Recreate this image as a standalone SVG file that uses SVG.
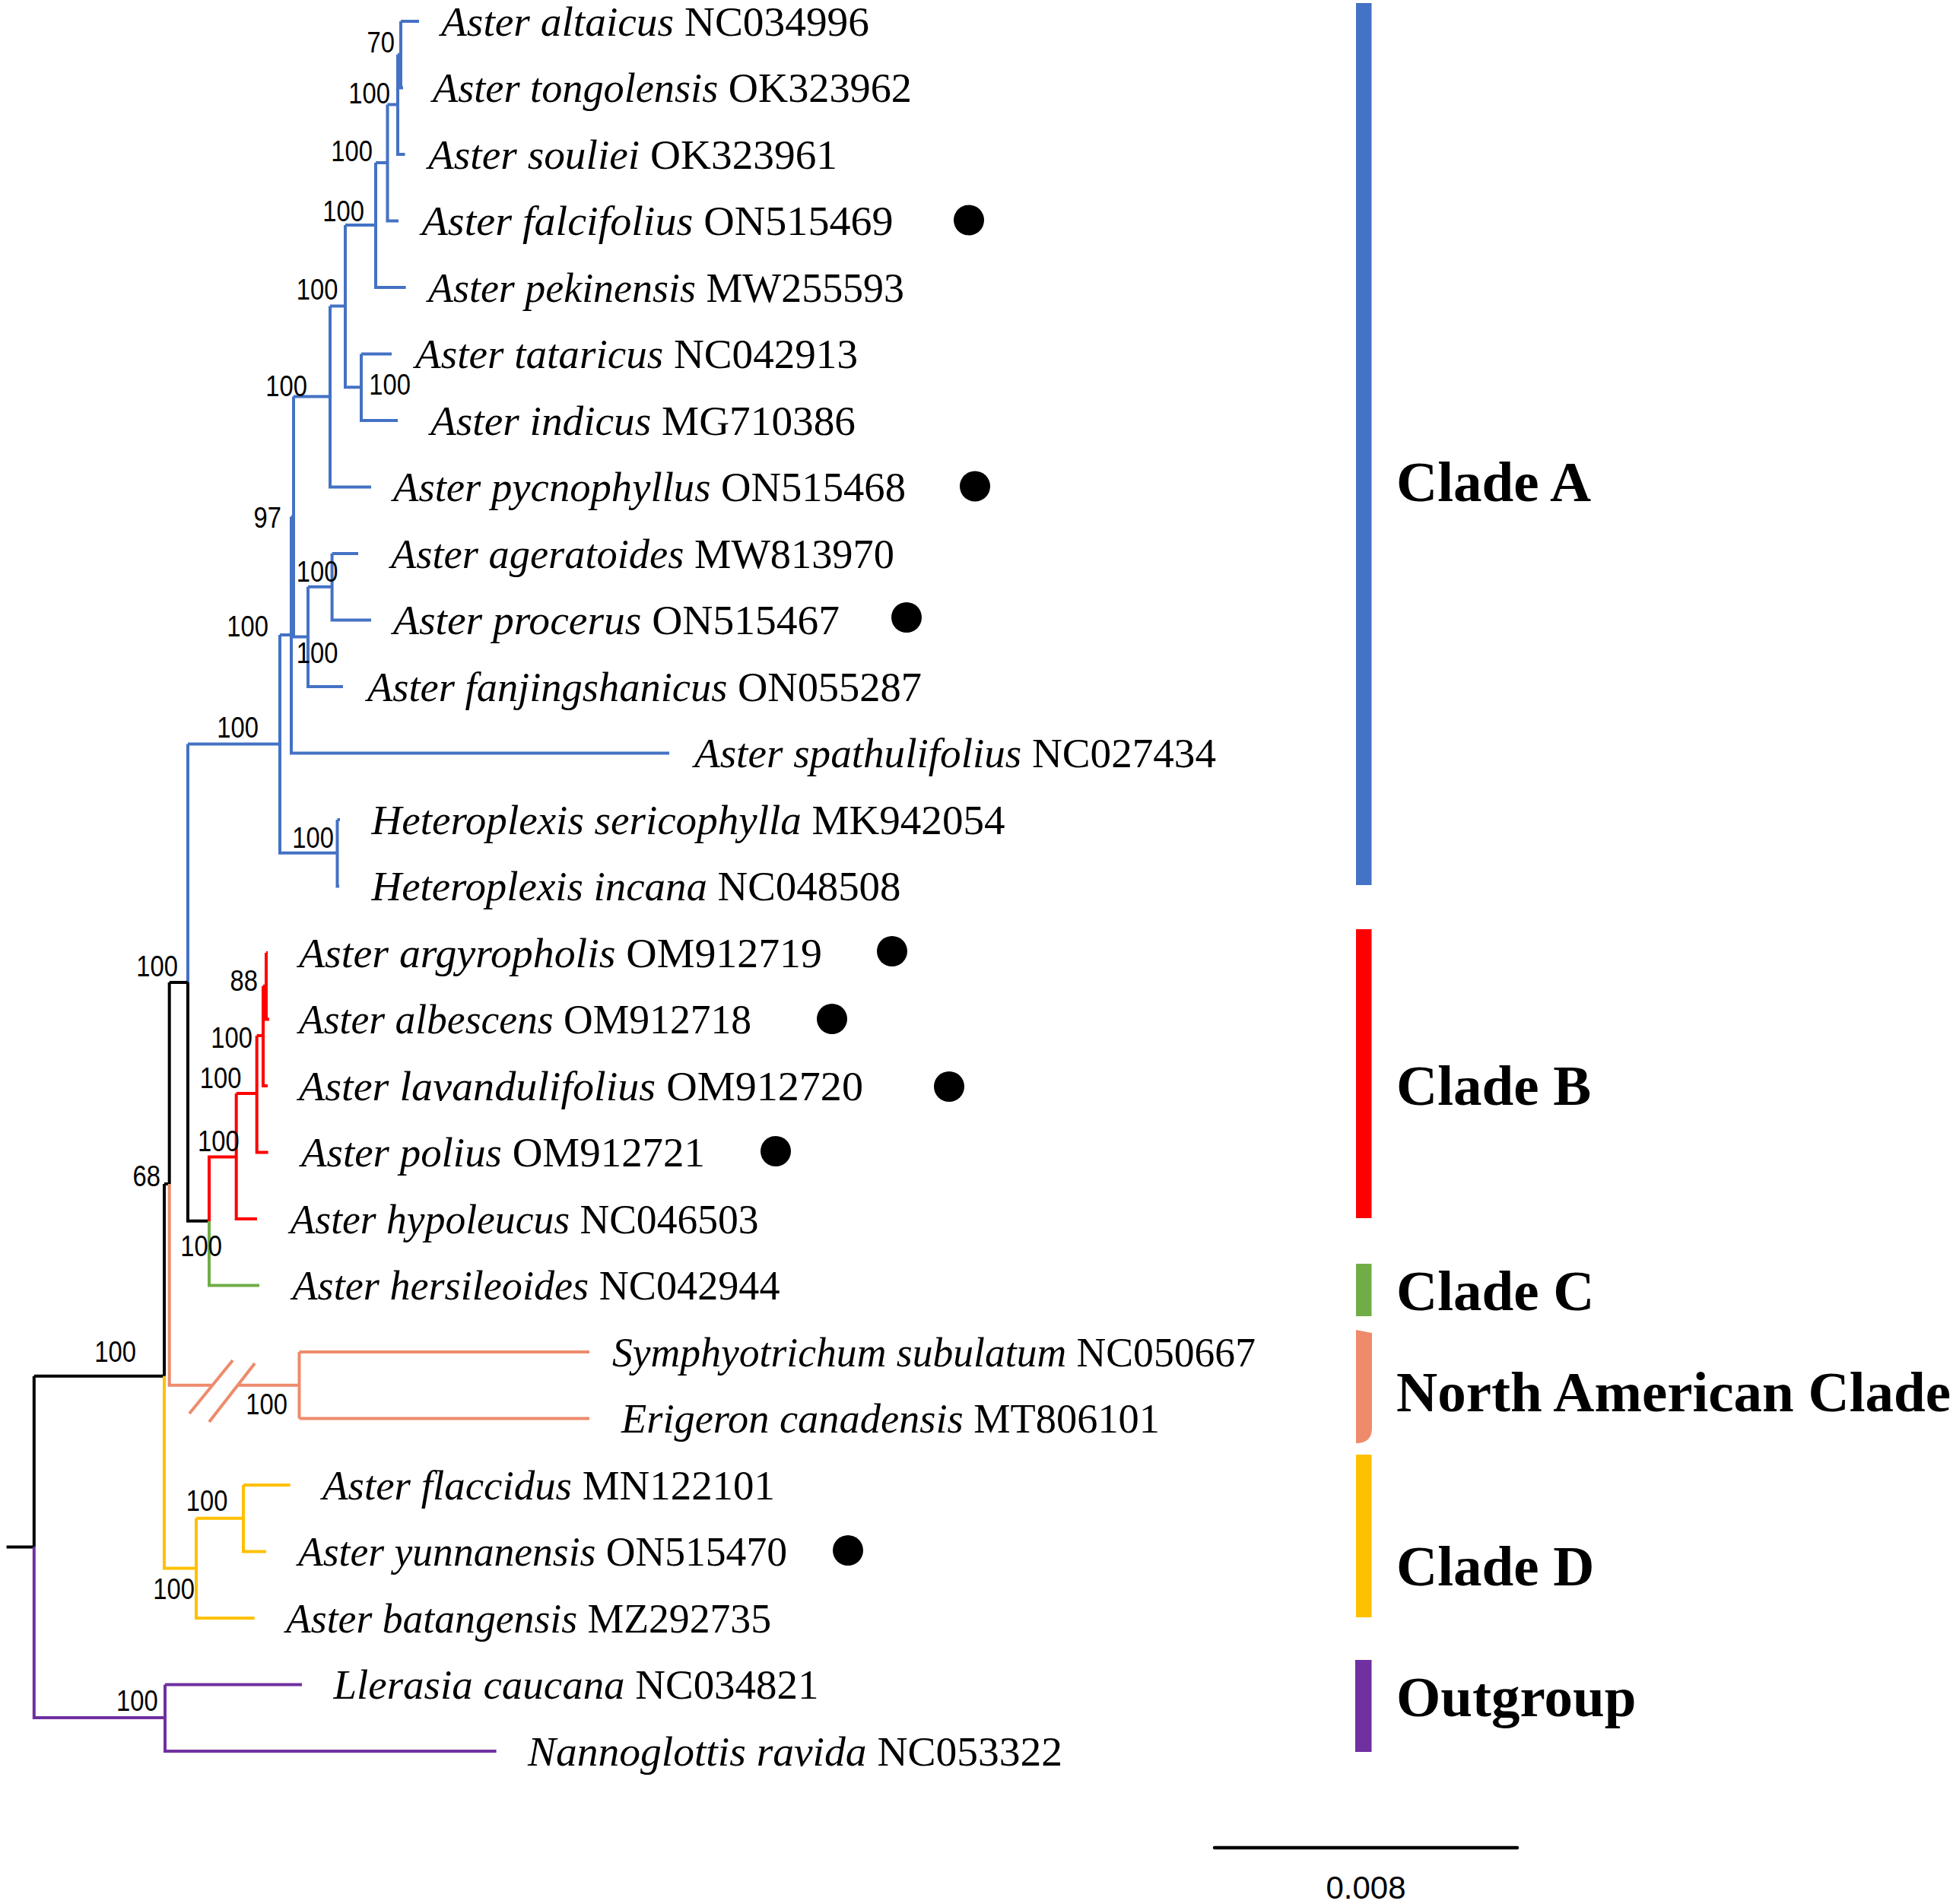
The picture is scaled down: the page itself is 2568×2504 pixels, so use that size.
<svg xmlns="http://www.w3.org/2000/svg" width="2568" height="2504" viewBox="0 0 2568 2504">
<style>
.br{fill:none;stroke-width:4;stroke-linecap:butt;stroke-linejoin:miter}
.cb{stroke:#4472C4}.ck{stroke:#000}.cr{stroke:#FF0000}.cg{stroke:#70AD47}.co{stroke:#EE8B6B}.cy{stroke:#FFC000}.cp{stroke:#7030A0}
.tx{font-family:"Liberation Serif","Times New Roman",serif;font-size:55.5px;fill:#000}
.tx tspan.sp{font-style:italic}
.bs{font-family:"Liberation Sans",Arial,sans-serif;font-size:39px;fill:#000;text-anchor:end}
.cl{font-family:"Liberation Serif","Times New Roman",serif;font-size:75px;font-weight:bold;fill:#000}
.dot{fill:#000}
</style>
<rect width="2568" height="2504" fill="#fff"/>
<g id="connectors">
<path class="br cb" d="M527,28 H551 M527,28 V115.5 H530 M523,71.75 H527 M523,71.75 V203 H532.5 M509.5,137.4 H523 M509.5,137.4 V290.5 H524 M494,214 H509.5 M494,214 V378 H533.6 M475,465.5 H515 M475,465.5 V553 H523 M454,296 H494 M454,296 V509.25 H475 M434,402.6 H454 M434,402.6 V640.5 H488 M436.6,728 H471 M436.6,728 V815.5 H488 M405,771.75 H436.6 M405,771.75 V903 H451 M386,521.5 H434 M386,521.5 V837.4 H405 M383,679.5 H386 M383,679.5 V990.5 H880 M443.5,1078 H447 M443.5,1078 V1165.5 H446 M368,835 H383 M368,835 V1121.75 H443.5 M247,978.4 H368 M247,978.4 V1292"/>
<path class="br ck" d="M247,1292 V1605.75 H275 M222.7,1292 H247 M222.7,1292 V1557 M216,1557 H222.7 M216,1557 V1809.75 M44.8,1809.75 H216 M44.8,1809.75 V2034.4 M8.6,2034.4 H44.8"/>
<path class="br cr" d="M275,1606 V1521.5 H310.7 M310.7,1438 V1603 H338 M310.7,1438 H337.7 M337.7,1362 V1515.5 H352.6 M337.7,1362 H346 M346,1296.75 V1428 H352 M346,1296.75 H350 M350,1253 V1340.5 H354 M350,1253 H352"/>
<path class="br cg" d="M275,1606 V1690.5 H341"/>
<path class="br co" d="M222.7,1557 V1821.75 H279 M313,1821.75 H393.5 M393.5,1778 V1865.5 M393.5,1778 H775 M393.5,1865.5 H775 M249,1859 L306,1789 M275,1870 L335,1793"/>
<path class="br cy" d="M216,1809.75 V2062.4 H258 M258,1996.75 V2128 H334.6 M258,1996.75 H320 M320,1953 V2040.5 H350 M320,1953 H381.7"/>
<path class="br cp" d="M44.8,2034.4 V2259 H217 M217,2215.5 V2303 H652.6 M217,2215.5 H397"/>
</g>
<g id="support">
<text class="bs" transform="translate(519,69) scale(0.84,1)">70</text>
<text class="bs" transform="translate(513,136) scale(0.84,1)">100</text>
<text class="bs" transform="translate(490,212) scale(0.84,1)">100</text>
<text class="bs" transform="translate(479,291) scale(0.84,1)">100</text>
<text class="bs" transform="translate(444.5,394) scale(0.84,1)">100</text>
<text class="bs" transform="translate(540,519) scale(0.84,1)">100</text>
<text class="bs" transform="translate(404,521) scale(0.84,1)">100</text>
<text class="bs" transform="translate(370,694) scale(0.84,1)">97</text>
<text class="bs" transform="translate(444.5,765) scale(0.84,1)">100</text>
<text class="bs" transform="translate(353,837) scale(0.84,1)">100</text>
<text class="bs" transform="translate(444.5,872) scale(0.84,1)">100</text>
<text class="bs" transform="translate(340,970) scale(0.84,1)">100</text>
<text class="bs" transform="translate(439,1115) scale(0.84,1)">100</text>
<text class="bs" transform="translate(234,1284) scale(0.84,1)">100</text>
<text class="bs" transform="translate(339,1303) scale(0.84,1)">88</text>
<text class="bs" transform="translate(332,1378) scale(0.84,1)">100</text>
<text class="bs" transform="translate(317.5,1431) scale(0.84,1)">100</text>
<text class="bs" transform="translate(314.6,1514) scale(0.84,1)">100</text>
<text class="bs" transform="translate(211,1560) scale(0.84,1)">68</text>
<text class="bs" transform="translate(292,1652) scale(0.84,1)">100</text>
<text class="bs" transform="translate(179,1791) scale(0.84,1)">100</text>
<text class="bs" transform="translate(378,1860) scale(0.84,1)">100</text>
<text class="bs" transform="translate(299.5,1987) scale(0.84,1)">100</text>
<text class="bs" transform="translate(256,2103) scale(0.84,1)">100</text>
<text class="bs" transform="translate(207.6,2250) scale(0.84,1)">100</text>
</g>
<g id="taxon-altaicus"><text class="tx" x="580" y="46.5" textLength="563" lengthAdjust="spacingAndGlyphs"><tspan class="sp">Aster altaicus</tspan> NC034996</text></g>
<g id="taxon-tongolensis"><text class="tx" x="569" y="134" textLength="630" lengthAdjust="spacingAndGlyphs"><tspan class="sp">Aster tongolensis</tspan> OK323962</text></g>
<g id="taxon-souliei"><text class="tx" x="563" y="221.5" textLength="538" lengthAdjust="spacingAndGlyphs"><tspan class="sp">Aster souliei</tspan> OK323961</text></g>
<g id="taxon-falcifolius"><text class="tx" x="554.6" y="309" textLength="620" lengthAdjust="spacingAndGlyphs"><tspan class="sp">Aster falcifolius</tspan> ON515469</text><circle class="dot" cx="1274" cy="289.5" r="20"/></g>
<g id="taxon-pekinensis"><text class="tx" x="563" y="396.5" textLength="626" lengthAdjust="spacingAndGlyphs"><tspan class="sp">Aster pekinensis</tspan> MW255593</text></g>
<g id="taxon-tataricus"><text class="tx" x="546" y="484" textLength="582" lengthAdjust="spacingAndGlyphs"><tspan class="sp">Aster tataricus</tspan> NC042913</text></g>
<g id="taxon-indicus"><text class="tx" x="566" y="571.5" textLength="559" lengthAdjust="spacingAndGlyphs"><tspan class="sp">Aster indicus</tspan> MG710386</text></g>
<g id="taxon-pycnophyllus"><text class="tx" x="517" y="659" textLength="674" lengthAdjust="spacingAndGlyphs"><tspan class="sp">Aster pycnophyllus</tspan> ON515468</text><circle class="dot" cx="1282" cy="639.5" r="20"/></g>
<g id="taxon-ageratoides"><text class="tx" x="514" y="746.5" textLength="662" lengthAdjust="spacingAndGlyphs"><tspan class="sp">Aster ageratoides</tspan> MW813970</text></g>
<g id="taxon-procerus"><text class="tx" x="517" y="834" textLength="587" lengthAdjust="spacingAndGlyphs"><tspan class="sp">Aster procerus</tspan> ON515467</text><circle class="dot" cx="1192" cy="812" r="20"/></g>
<g id="taxon-fanjingshanicus"><text class="tx" x="483" y="921.5" textLength="729" lengthAdjust="spacingAndGlyphs"><tspan class="sp">Aster fanjingshanicus</tspan> ON055287</text></g>
<g id="taxon-spathulifolius"><text class="tx" x="913" y="1009" textLength="686" lengthAdjust="spacingAndGlyphs"><tspan class="sp">Aster spathulifolius</tspan> NC027434</text></g>
<g id="taxon-sericophylla"><text class="tx" x="488.5" y="1096.5" textLength="833" lengthAdjust="spacingAndGlyphs"><tspan class="sp">Heteroplexis sericophylla</tspan> MK942054</text></g>
<g id="taxon-incana"><text class="tx" x="488.5" y="1184" textLength="696" lengthAdjust="spacingAndGlyphs"><tspan class="sp">Heteroplexis incana</tspan> NC048508</text></g>
<g id="taxon-argyropholis"><text class="tx" x="393" y="1271.5" textLength="688" lengthAdjust="spacingAndGlyphs"><tspan class="sp">Aster argyropholis</tspan> OM912719</text><circle class="dot" cx="1173" cy="1251" r="20"/></g>
<g id="taxon-albescens"><text class="tx" x="393" y="1359" textLength="595" lengthAdjust="spacingAndGlyphs"><tspan class="sp">Aster albescens</tspan> OM912718</text><circle class="dot" cx="1094" cy="1340" r="20"/></g>
<g id="taxon-lavandulifolius"><text class="tx" x="393" y="1446.5" textLength="742" lengthAdjust="spacingAndGlyphs"><tspan class="sp">Aster lavandulifolius</tspan> OM912720</text><circle class="dot" cx="1248" cy="1429" r="20"/></g>
<g id="taxon-polius"><text class="tx" x="396" y="1534" textLength="531" lengthAdjust="spacingAndGlyphs"><tspan class="sp">Aster polius</tspan> OM912721</text><circle class="dot" cx="1020" cy="1514" r="20"/></g>
<g id="taxon-hypoleucus"><text class="tx" x="381.6" y="1621.5" textLength="616" lengthAdjust="spacingAndGlyphs"><tspan class="sp">Aster hypoleucus</tspan> NC046503</text></g>
<g id="taxon-hersileoides"><text class="tx" x="384.5" y="1709" textLength="641" lengthAdjust="spacingAndGlyphs"><tspan class="sp">Aster hersileoides</tspan> NC042944</text></g>
<g id="taxon-symphyotrichum"><text class="tx" x="805" y="1796.5" textLength="846" lengthAdjust="spacingAndGlyphs"><tspan class="sp">Symphyotrichum subulatum</tspan> NC050667</text></g>
<g id="taxon-erigeron"><text class="tx" x="817" y="1884" textLength="708" lengthAdjust="spacingAndGlyphs"><tspan class="sp">Erigeron canadensis</tspan> MT806101</text></g>
<g id="taxon-flaccidus"><text class="tx" x="424" y="1971.5" textLength="595" lengthAdjust="spacingAndGlyphs"><tspan class="sp">Aster flaccidus</tspan> MN122101</text></g>
<g id="taxon-yunnanensis"><text class="tx" x="392" y="2059" textLength="643" lengthAdjust="spacingAndGlyphs"><tspan class="sp">Aster yunnanensis</tspan> ON515470</text><circle class="dot" cx="1115" cy="2039" r="20"/></g>
<g id="taxon-batangensis"><text class="tx" x="376" y="2146.5" textLength="638" lengthAdjust="spacingAndGlyphs"><tspan class="sp">Aster batangensis</tspan> MZ292735</text></g>
<g id="taxon-llerasia"><text class="tx" x="438.5" y="2234" textLength="638" lengthAdjust="spacingAndGlyphs"><tspan class="sp">Llerasia caucana</tspan> NC034821</text></g>
<g id="taxon-nannoglottis"><text class="tx" x="694" y="2321.5" textLength="703" lengthAdjust="spacingAndGlyphs"><tspan class="sp">Nannoglottis ravida</tspan> NC053322</text></g>
<g id="clade-A"><rect x="1783" y="4" width="20.5" height="1160" fill="#4472C4"/><text class="cl" x="1836" y="659">Clade A</text></g>
<g id="clade-B"><rect x="1783" y="1222" width="20.5" height="380" fill="#FF0000"/><text class="cl" x="1836" y="1453">Clade B</text></g>
<g id="clade-C"><rect x="1783" y="1662" width="20.5" height="69" fill="#70AD47"/><text class="cl" x="1836" y="1723">Clade C</text></g>
<g id="clade-NA"><path d="M1783,1749 L1804,1753 V1878 Q1804,1898 1783,1898 Z" fill="#EE8B6B"/><text class="cl" x="1836" y="1856">North American Clade</text></g>
<g id="clade-D"><rect x="1783" y="1913" width="20.5" height="214" fill="#FFC000"/><text class="cl" x="1836" y="2085">Clade D</text></g>
<g id="outgroup"><rect x="1782" y="2183" width="21.5" height="121" fill="#7030A0"/><text class="cl" x="1836" y="2257">Outgroup</text></g>
<g id="scale-bar"><line x1="1597" y1="2430" x2="1995" y2="2430" stroke="#000" stroke-width="4.5" stroke-linecap="round"/><text x="1796" y="2497" font-family="Liberation Sans, Arial, sans-serif" font-size="42" text-anchor="middle">0.008</text></g>
</svg>
